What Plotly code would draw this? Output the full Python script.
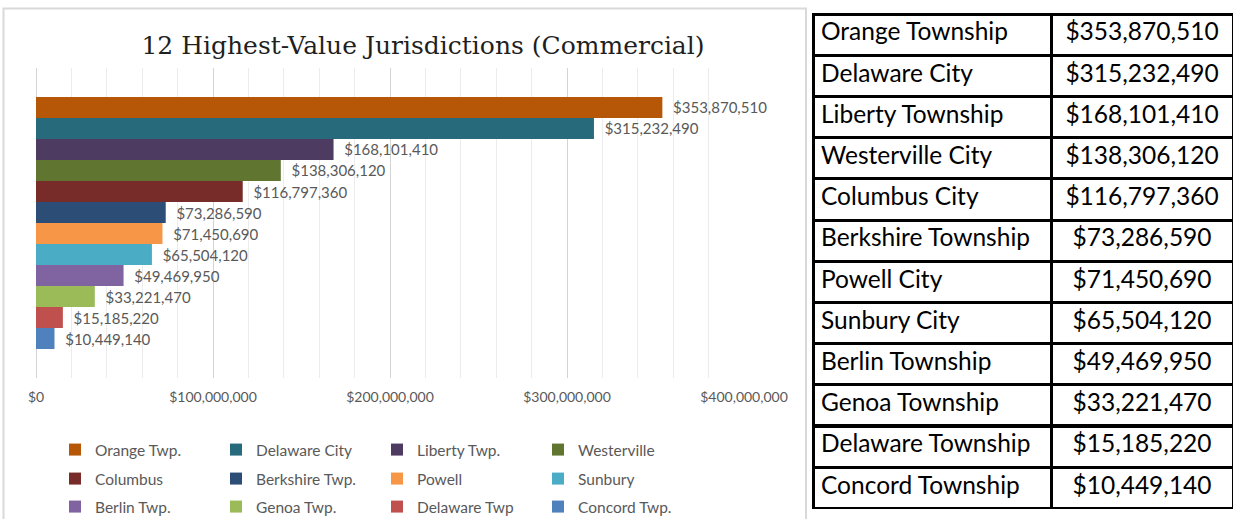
import plotly.graph_objects as go

# ---- data ----
legend_names = ["Orange Twp.", "Delaware City", "Liberty Twp.", "Westerville",
                "Columbus", "Berkshire Twp.", "Powell", "Sunbury",
                "Berlin Twp.", "Genoa Twp.", "Delaware Twp", "Concord Twp."]
table_names = ["Orange Township", "Delaware City", "Liberty Township", "Westerville City",
               "Columbus City", "Berkshire Township", "Powell City", "Sunbury City",
               "Berlin Township", "Genoa Township", "Delaware Township", "Concord Township"]
values = [353870510, 315232490, 168101410, 138306120, 116797360, 73286590,
          71450690, 65504120, 49469950, 33221470, 15185220, 10449140]
colors = ["#B65708", "#276A7C", "#4D3B62", "#5F7530", "#772C2A", "#2C4D75",
          "#F79646", "#4BACC6", "#8064A2", "#9BBB59", "#C0504D", "#4F81BD"]
category = ["Commercial"]
x_ticks = [0, 100000000, 200000000, 300000000, 400000000]
x_tick_labels = [f"${v:,}" for v in x_ticks]

W, H = 1233, 519
def px_x(v): return v / W
def px_y(v): return 1 - v / H

fig = go.Figure()
legend_ids = ["legend", "legend2", "legend3"]
for i, (n, v, c) in enumerate(zip(legend_names, values, colors)):
    fig.add_trace(go.Bar(
        x=[v], y=category, name=n, orientation="h",
        marker=dict(color=c, line=dict(width=0)),
        texttemplate="\u00a0\u00a0$%{x:,.0f}", textposition="outside",
        constraintext="none", cliponaxis=False,
        textfont=dict(family="Lato", size=15, color="#595959"),
        legend=legend_ids[i // 4],
        xaxis="x", yaxis="y",
    ))

cell_vals_names = table_names[1:]
cell_vals_amts = [f"${v:,}" for v in values[1:]]
fig.add_trace(go.Table(
    domain=dict(x=[px_x(813), 1.0], y=[px_y(509), px_y(14)]),
    columnwidth=[238, 182],
    header=dict(values=[table_names[0], f"${values[0]:,}"],
                align=["left", "center"], height=41.2,
                line=dict(color="black", width=3), fill=dict(color="white"),
                font=dict(family="Lato", size=24.5, color="black")),
    cells=dict(values=[cell_vals_names, cell_vals_amts],
               align=["left", "center"], height=41.2,
               line=dict(color="black", width=3), fill=dict(color="white"),
               font=dict(family="Lato", size=24.5, color="black")),
))

legend_common = dict(orientation="h", entrywidth=116, entrywidthmode="pixels",
                     xanchor="left", yanchor="middle", bgcolor="rgba(0,0,0,0)",
                     font=dict(family="Lato", size=15.5, color="#595959"),
                     itemclick=False, itemdoubleclick=False)

fig.update_layout(
    template="none",
    width=W, height=H, margin=dict(l=0, r=0, t=0, b=0, autoexpand=False),
    paper_bgcolor="white", plot_bgcolor="white",
    barmode="group", bargap=0.187, bargroupgap=0,
    title=dict(text="12 Highest-Value Jurisdictions (Commercial)",
               x=px_x(423), xanchor="center", y=px_y(45), yanchor="middle",
               font=dict(family="DejaVu Serif", size=25, color="#1f1f1f")),
    xaxis=dict(domain=[px_x(36), px_x(744)], range=[0, 400000000],
               tickvals=x_ticks, ticktext=x_tick_labels, automargin=False,
               showgrid=True, gridcolor="#d4d4d4", gridwidth=1,
               minor=dict(dtick=20000000, showgrid=True, gridcolor="#ececec", gridwidth=1),
               zeroline=True, zerolinecolor="#d4d4d4", zerolinewidth=1,
               showline=False, ticks="", ticklabelstandoff=9,
               tickfont=dict(family="Lato", size=14, color="#595959")),
    yaxis=dict(domain=[px_y(378), px_y(68)], type="category", range=[0.5, -0.5],
               automargin=False,
               showticklabels=False, showgrid=False, zeroline=False, ticks=""),
    legend=dict(x=px_x(55), y=px_y(450), **legend_common),
    legend2=dict(x=px_x(55), y=px_y(479), **legend_common),
    legend3=dict(x=px_x(55), y=px_y(507), **legend_common),
    showlegend=True,
    shapes=[dict(type="rect", xref="paper", yref="paper",
                 x0=px_x(3.5), x1=px_x(806), y0=px_y(530), y1=px_y(8.5),
                 line=dict(color="#d9d9d9", width=2), fillcolor="rgba(0,0,0,0)",
                 layer="below")],
)

fig.write_html("out.html", config={"displayModeBar": False},
               post_script="document.body.style.margin='0';document.body.style.overflow='hidden';")
